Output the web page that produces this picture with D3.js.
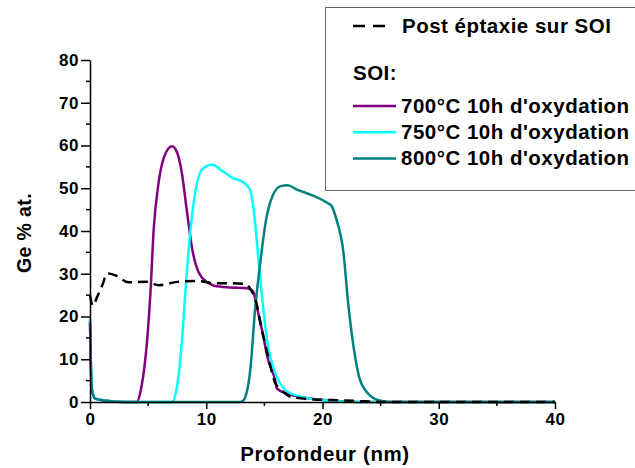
<!DOCTYPE html>
<html>
<head>
<meta charset="utf-8">
<script src="https://cdn.jsdelivr.net/npm/d3@7"></script>
<style>
  body { margin: 0; background: #fff; }
  svg { font-family: "Liberation Sans", Arial, sans-serif; font-weight: bold; }
</style>
</head>
<body>
<svg id="chart"></svg>
<script>
// Data (depth in nm, Ge in at. %)
const epiDepth = [0, 0.25, 0.6, 1.1, 1.45, 2.3, 3.3, 4.9, 5.9, 7.5, 9.2, 10.7, 11.8, 13.4, 13.8, 14.3, 14.7, 15.3, 15.9, 16.5, 17.3, 19.3, 21.6, 23.6, 25, 30, 35, 40];
const epiGe    = [25, 22.5, 24.5, 27.6, 30.1, 29.5, 28, 28.1, 27.3, 28.1, 28.3, 27.8, 27.8, 27.6, 26.4, 23.3, 17.9, 10.9, 4.7, 2.7, 1.2, 0.6, 0.4, 0.15, 0, 0, 0, 0];

const s700Depth = [0, 0.15, 0.45, 1.4, 3, 4.0, 4.45, 4.9, 5.2, 5.48, 5.9, 6.35, 7.05, 7.5, 7.9, 8.35, 8.8, 9.35, 10.1, 10.7, 12.1, 13.5, 14.0, 14.4, 14.9, 15.3, 15.9, 16.1, 17, 18.5, 20, 23, 40];
const s700Ge    = [19, 3.1, 0.8, 0.3, 0, 0, 3.9, 14, 25.6, 40.4, 51.3, 57.1, 59.8, 58.3, 53.6, 44.3, 35.7, 30.3, 28, 27.2, 26.8, 26.6, 26, 21.7, 15.5, 10.1, 5.4, 3.1, 1.9, 1, 0.5, 0, 0];

const s750Depth = [0, 0.15, 0.45, 1.4, 3, 7.05, 7.5, 7.9, 8.2, 8.65, 9.1, 9.65, 10.5, 11.4, 12.2, 13.25, 13.8, 14.2, 14.5, 14.85, 15.3, 15.9, 16.7, 17.8, 20.1, 23, 40];
const s750Ge    = [19.5, 3.1, 0.8, 0.3, 0, 0, 3.9, 14, 25.6, 40.4, 49.7, 54.4, 55.5, 54, 52.5, 51.3, 49.5, 42, 33, 23.3, 13.2, 7, 3.1, 1.5, 0.4, 0, 0];

const s800Depth = [0, 0.15, 0.45, 1.4, 3, 12.9, 13.2, 13.8, 14.2, 14.65, 15.1, 15.7, 16.4, 17, 17.8, 19.25, 20.4, 20.8, 21.2, 21.8, 22.2, 22.7, 23.2, 24.1, 25, 26, 40];
const s800Ge    = [18.5, 3.1, 0.8, 0.3, 0, 0, 0.4, 7.8, 21.7, 32.6, 41.9, 48.2, 50.5, 50.7, 49.7, 48.2, 46.6, 45.8, 42.7, 35, 23.3, 12.4, 5.4, 1.5, 0.3, 0, 0];

const xTicks = [0, 10, 20, 30, 40];
const yTicks = [0, 10, 20, 30, 40, 50, 60, 70, 80];

const legendItems = [
  { label: '700°C 10h d\'oxydation', color: '#800080' },
  { label: '750°C 10h d\'oxydation', color: '#00ffff' },
  { label: '800°C 10h d\'oxydation', color: '#008080' }
];

const svgWidth = 635;
const svgHeight = 468;
const margin = { top: 60, right: 80, bottom: 66, left: 90 };

const svg = d3.select('#chart')
    .attr('width', svgWidth)
    .attr('height', svgHeight);

const xScale = d3.scaleLinear()
    .domain([0, 40])
    .range([margin.left, 555]);

const yScale = d3.scaleLinear()
    .domain([0, 80])
    .range([402, margin.top]);

// Curves
const line = d3.line()
    .x(d => xScale(d[0]))
    .y(d => yScale(d[1]))
    .curve(d3.curveMonotoneX);

const zip = (xs, ys) => xs.map((x, i) => [x, ys[i]]);

const series = [
  { pts: zip(s700Depth, s700Ge), color: '#800080' },
  { pts: zip(s750Depth, s750Ge), color: '#00ffff' },
  { pts: zip(s800Depth, s800Ge), color: '#008080' }
];

series.forEach(s => {
  svg.append('path')
      .attr('d', line(s.pts))
      .attr('fill', 'none')
      .attr('stroke', s.color)
      .attr('stroke-width', 2.5)
      .attr('stroke-linejoin', 'round');
});

svg.append('path')
    .attr('d', line(zip(epiDepth, epiGe)))
    .attr('fill', 'none')
    .attr('stroke', '#000')
    .attr('stroke-width', 2.5)
    .attr('stroke-dasharray', '10,6');

// Axes
const xAxis = svg.append('g')
    .attr('transform', `translate(0, ${yScale(0)})`)
    .call(d3.axisBottom(xScale).tickValues(xTicks).tickSize(7).tickPadding(4).tickSizeOuter(0));

const yAxis = svg.append('g')
    .attr('transform', `translate(${xScale(0)}, 0)`)
    .call(d3.axisLeft(yScale).tickValues(yTicks).tickSize(9).tickPadding(2).tickSizeOuter(0));

// minor ticks
xAxis.selectAll('.minor')
    .data(d3.range(5, 40, 10))
    .enter().append('line')
    .attr('x1', d => xScale(d)).attr('x2', d => xScale(d))
    .attr('y1', 0).attr('y2', 4)
    .attr('stroke', '#000').attr('stroke-width', 1.5);

yAxis.selectAll('.minor')
    .data(d3.range(5, 80, 10))
    .enter().append('line')
    .attr('y1', d => yScale(d)).attr('y2', d => yScale(d))
    .attr('x1', 0).attr('x2', -4)
    .attr('stroke', '#000').attr('stroke-width', 1.5);

[xAxis, yAxis].forEach(g => {
  g.select('.domain').attr('stroke-width', 1.5);
  g.selectAll('.tick line').attr('stroke-width', 1.5);
  g.selectAll('.tick text')
      .attr('font-size', 17)
      .attr('letter-spacing', 0.6)
      .attr('font-weight', 'bold')
      .attr('font-family', '"Liberation Sans", Arial, sans-serif')
      .attr('fill', '#000');
});

// Axis titles
svg.append('text')
    .attr('x', 325)
    .attr('y', 461)
    .attr('text-anchor', 'middle')
    .attr('font-size', 20.5)
    .attr('letter-spacing', 0.6)
    .text('Profondeur (nm)');

svg.append('text')
    .attr('transform', `translate(31, 233) rotate(-90)`)
    .attr('text-anchor', 'middle')
    .attr('font-size', 19.5)
    .attr('letter-spacing', 0.4)
    .text('Ge % at.');

// Legend
const legend = svg.append('g');

legend.append('rect')
    .attr('x', 325.5).attr('y', 7.5)
    .attr('width', 330).attr('height', 183)
    .attr('fill', '#fff')
    .attr('stroke', '#666')
    .attr('stroke-width', 1);

legend.append('line')
    .attr('x1', 353).attr('x2', 387)
    .attr('y1', 26).attr('y2', 26)
    .attr('stroke', '#000')
    .attr('stroke-width', 2.5)
    .attr('stroke-dasharray', '12,8');

legend.append('text')
    .attr('x', 402).attr('y', 33)
    .attr('font-size', 20.5)
    .attr('letter-spacing', 0.5)
    .text('Post éptaxie sur SOI');

legend.append('text')
    .attr('x', 353).attr('y', 80)
    .attr('font-size', 20.5)
    .attr('letter-spacing', 0.5)
    .text('SOI:');

legendItems.forEach((d, i) => {
  const y = 106 + i * 26.2;
  legend.append('line')
      .attr('x1', 353).attr('x2', 396)
      .attr('y1', y).attr('y2', y)
      .attr('stroke', d.color)
      .attr('stroke-width', 2.5);
  legend.append('text')
      .attr('x', 401).attr('y', y + 7)
      .attr('font-size', 20.5)
      .attr('letter-spacing', 0.5)
      .text(d.label);
});
</script>
</body>
</html>
